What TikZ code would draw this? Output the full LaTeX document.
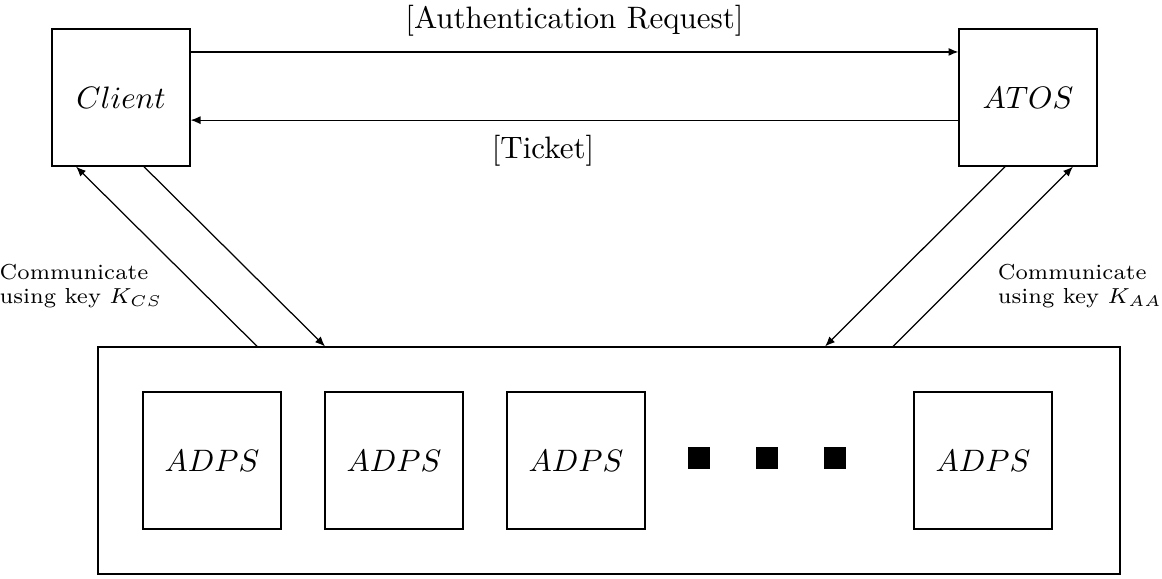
\documentclass[tikz,border=0pt]{standalone}
\usepackage{tikz}
\usetikzlibrary{arrows.meta,positioning,calc}
\tikzset{
    box/.style={
        draw=black,minimum width=44.5pt,minimum height=44.2pt,
        inner sep=0pt,align=center
    },
    pool/.style={
        draw=black,minimum width=329.7pt,minimum height=73.2pt,inner sep=0pt
    },
    blob/.style={
        fill=black,minimum size=7.1pt,inner sep=0pt
    },
    link/.style={
        -{Latex[length=3.2pt,width=2.6pt]},draw=black
    },
    note/.style={
        font=\scriptsize,align=left,inner sep=0pt
    }
}

\begin{document}
\begin{tikzpicture}[x=0.3226pt,y=-0.3226pt]
\useasboundingbox (0,0) rectangle (1162,578);

% top row
\node[box] (client) at (121,97.5) {$Client$};
\node[box] (atos) at (1028,97.5) {$ATOS$};

% bottom row
\node[pool] (pool) at (609,460.5) {};
\foreach \x/\n in {212/1,394/2,576/3,983/4}
    \node[box] (adps\n) at (\x,460.5) {$ADPS$};
\foreach \x/\n in {699/1,767/2,835/3}
    \node[blob] (dot\n) at (\x,458) {};

% messages
\draw[link] ([yshift=14.7pt]client.east) -- ([yshift=14.7pt]atos.west)
    node[midway,above=1.5pt] (req) {[Authentication Request]};
\draw[link] ([yshift=-7.3pt]atos.west) -- ([yshift=-7.3pt]client.east);
\node (ticket) at (543,151) {[Ticket]};

% key exchange
\draw[link] ([xshift=-113.5pt]pool.north) -- ([xshift=-14.5pt]client.south);
\draw[link] ([xshift=7.4pt]client.south) -- ([xshift=-91.6pt]pool.north);
\draw[link] ([xshift=-7.4pt]atos.south) -- ([xshift=69.7pt]pool.north);
\draw[link] ([xshift=91.6pt]pool.north) -- ([xshift=14.5pt]atos.south);

\node[note] (kcs) at (81,286) {Communicate\\using key $K_{CS}$};
\node[note] (kaa) at (1080,286) {Communicate\\using key $K_{AA}$};

\end{tikzpicture}
\end{document}
